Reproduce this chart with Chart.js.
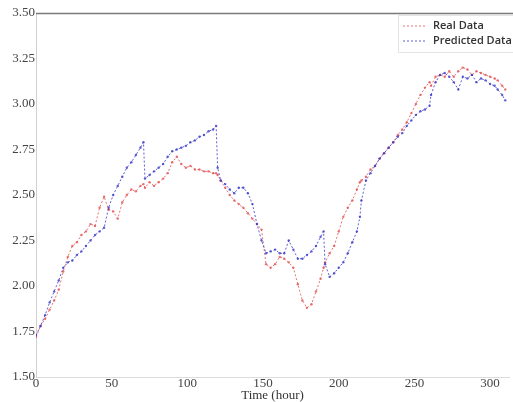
<!DOCTYPE html>
<html>
<head>
<meta charset="utf-8">
<script src="https://cdn.jsdelivr.net/npm/chart.js@4.4.1/dist/chart.umd.min.js"></script>
<style>
    body { margin: 0; background: #fff; }
    #wrap { width: 513px; height: 402px; }
</style>
</head>
<body>
<div id="wrap"><canvas id="predChart" width="513" height="402"></canvas></div>
<script>
// hours sampled along the time axis
const hours = [0, 3, 6, 9, 12, 15, 18, 21, 24, 27, 30, 33, 36, 39, 42, 45, 48, 51, 54, 57,
    60, 63, 66, 69, 71, 72, 75, 78, 81, 84, 87, 90, 93, 96, 99, 102, 105, 108, 111, 114,
    117, 119, 120, 122, 125, 128, 131, 134, 137, 140, 143, 146, 149, 152, 155, 158, 161, 164, 167, 170,
    173, 176, 179, 182, 185, 188, 190, 191, 194, 197, 200, 203, 206, 209, 212, 214, 215, 218, 221, 224,
    227, 230, 233, 236, 239, 242, 245, 248, 251, 254, 257, 260, 261, 264, 267, 270, 273, 276, 279, 282,
    285, 288, 291, 294, 297, 300, 303, 305, 308, 310];

const realData = [1.72, 1.78, 1.82, 1.87, 1.92, 1.98, 2.08, 2.16, 2.22, 2.24, 2.28, 2.30, 2.34, 2.33, 2.43, 2.49, 2.42, 2.41, 2.37, 2.46,
    2.50, 2.53, 2.52, 2.55, 2.56, 2.54, 2.57, 2.55, 2.57, 2.59, 2.62, 2.68, 2.71, 2.67, 2.65, 2.66, 2.64, 2.64, 2.63, 2.63,
    2.62, 2.62, 2.61, 2.58, 2.54, 2.50, 2.47, 2.45, 2.43, 2.40, 2.37, 2.34, 2.31, 2.12, 2.10, 2.12, 2.16, 2.15, 2.13, 2.10,
    2.01, 1.92, 1.88, 1.90, 1.97, 2.04, 2.10, 2.13, 2.18, 2.22, 2.30, 2.38, 2.43, 2.47, 2.53, 2.57, 2.58, 2.60, 2.64, 2.66,
    2.70, 2.73, 2.76, 2.79, 2.83, 2.86, 2.90, 2.95, 3.00, 3.05, 3.09, 3.12, 3.10, 3.15, 3.16, 3.15, 3.18, 3.15, 3.18, 3.20,
    3.19, 3.16, 3.18, 3.17, 3.16, 3.15, 3.14, 3.13, 3.10, 3.08];

const predictedData = [1.73, 1.78, 1.84, 1.91, 1.97, 2.03, 2.10, 2.13, 2.14, 2.17, 2.19, 2.22, 2.25, 2.28, 2.30, 2.32, 2.43, 2.50, 2.55, 2.60,
    2.65, 2.68, 2.72, 2.76, 2.79, 2.59, 2.61, 2.63, 2.65, 2.67, 2.71, 2.74, 2.75, 2.76, 2.77, 2.79, 2.80, 2.82, 2.83, 2.85,
    2.86, 2.88, 2.65, 2.58, 2.56, 2.53, 2.51, 2.54, 2.54, 2.51, 2.45, 2.34, 2.25, 2.18, 2.19, 2.20, 2.18, 2.18, 2.25, 2.20,
    2.15, 2.15, 2.17, 2.19, 2.22, 2.27, 2.30, 2.12, 2.05, 2.07, 2.10, 2.13, 2.18, 2.24, 2.30, 2.38, 2.47, 2.58, 2.62, 2.66,
    2.70, 2.73, 2.76, 2.79, 2.82, 2.84, 2.88, 2.91, 2.94, 2.96, 2.97, 2.99, 3.05, 3.12, 3.16, 3.17, 3.15, 3.12, 3.08, 3.15,
    3.14, 3.16, 3.12, 3.14, 3.13, 3.11, 3.10, 3.08, 3.05, 3.02];

const xTicks = [0, 50, 100, 150, 200, 250, 300];
const yTicks = [1.50, 1.75, 2.00, 2.25, 2.50, 2.75, 3.00, 3.25, 3.50];

function toPoints(values) {
    return hours.map(function(h, i) { return { x: h, y: values[i] }; });
}

// top frame line plus a boxed legend in the upper right corner
const frameAndLegend = {
    id: 'frameAndLegend',
    afterDraw: function(chart) {
        const ctx = chart.ctx;
        const area = chart.chartArea;
        ctx.save();
        ctx.strokeStyle = '#7a7a7a';
        ctx.lineWidth = 1.5;
        ctx.beginPath();
        ctx.moveTo(area.left, area.top + 0.5);
        ctx.lineTo(chart.width, area.top + 0.5);
        ctx.stroke();

        const boxX = chart.width - 115;
        const boxY = area.top + 2;
        ctx.strokeStyle = '#e4e4e4';
        ctx.lineWidth = 1;
        ctx.strokeRect(boxX + 0.5, boxY + 0.5, 120, 37);

        ctx.font = '600 11px "Open Sans"';
        ctx.textBaseline = 'middle';
        chart.data.datasets.forEach(function(ds, i) {
            const yy = boxY + 11 + i * 15;
            ctx.strokeStyle = ds.borderColor;
            ctx.lineWidth = 1;
            ctx.setLineDash([2, 2]);
            ctx.beginPath();
            ctx.moveTo(boxX + 5, yy);
            ctx.lineTo(boxX + 27, yy);
            ctx.stroke();
            ctx.setLineDash([]);
            ctx.fillStyle = '#333';
            ctx.fillText(ds.label, boxX + 35, yy);
        });
        ctx.restore();
    }
};

const ctx = document.getElementById('predChart').getContext('2d');
new Chart(ctx, {
    type: 'line',
    data: {
        datasets: [
            {
                label: 'Real Data',
                data: toPoints(realData),
                borderColor: 'rgba(225, 80, 80, 0.8)',
                backgroundColor: 'rgba(225, 80, 80, 0.8)',
                borderWidth: 1,
                borderDash: [2, 2],
                pointRadius: 1.2,
                pointBorderWidth: 0,
                tension: 0,
                order: 1
            },
            {
                label: 'Predicted Data',
                data: toPoints(predictedData),
                borderColor: 'rgba(55, 55, 200, 0.8)',
                backgroundColor: 'rgba(55, 55, 200, 0.8)',
                borderWidth: 1,
                borderDash: [2, 2],
                pointRadius: 1.2,
                pointBorderWidth: 0,
                tension: 0,
                order: 0
            }
        ]
    },
    options: {
        responsive: false,
        animation: false,
        layout: { padding: { top: 13, left: 0, right: -4, bottom: 0 } },
        plugins: {
            legend: { display: false },
            tooltip: { enabled: false }
        },
        scales: {
            x: {
                type: 'linear',
                min: 0,
                max: 312.5,
                afterBuildTicks: function(scale) {
                    scale.ticks = xTicks.map(function(v) { return { value: v }; });
                },
                afterFit: function(scale) { scale.height = 25; },
                ticks: {
                    padding: 0,
                    color: '#444',
                    font: { family: '"Liberation Serif"', size: 13, lineHeight: 1 }
                },
                grid: { display: false, drawTicks: false },
                border: { display: true, color: '#dcdcdc', width: 1 },
                title: {
                    display: true,
                    text: 'Time (hour)',
                    color: '#333',
                    padding: 0,
                    font: { family: '"Liberation Serif"', size: 13, lineHeight: 1 }
                }
            },
            y: {
                min: 1.5,
                max: 3.5,
                afterBuildTicks: function(scale) {
                    scale.ticks = yTicks.map(function(v) { return { value: v }; });
                },
                afterFit: function(scale) { scale.width = 36; },
                ticks: {
                    padding: 1,
                    color: '#444',
                    font: { family: '"Liberation Serif"', size: 13 },
                    callback: function(value) { return value.toFixed(2); }
                },
                grid: { display: false, drawTicks: false },
                border: { display: true, color: '#d0d0d0', width: 1 }
            }
        }
    },
    plugins: [frameAndLegend]
});
</script>
</body>
</html>
